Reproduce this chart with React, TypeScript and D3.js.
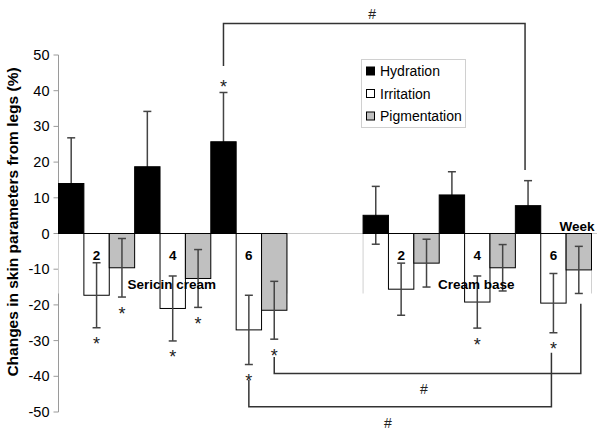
import React from "react";
import * as d3 from "d3";

const groups = ["Sericin cream", "Cream base"];
const weeks = ["2", "4", "6"];
const seriesNames = ["Hydration", "Irritation", "Pigmentation"];
const seriesColors = ["#000000", "#ffffff", "#c0c0c0"];

const hydrationSericin = [14.0, 18.7, 25.7];
const hydrationSericinSD = [12.8, 15.5, 13.8];
const irritationSericin = [-17.3, -21.0, -27.0];
const irritationSericinSD = [9.1, 9.1, 9.7];
const pigmentationSericin = [-9.6, -12.6, -21.5];
const pigmentationSericinSD = [8.2, 8.1, 8.1];

const hydrationBase = [5.1, 10.8, 7.8];
const hydrationBaseSD = [8.1, 6.5, 7.0];
const irritationBase = [-15.6, -19.2, -19.5];
const irritationBaseSD = [7.3, 7.3, 8.3];
const pigmentationBase = [-8.3, -9.6, -10.2];
const pigmentationBaseSD = [6.7, 6.5, 6.6];

// significance stars: [group, week, series]
const stars: [number, number, number][] = [
  [0, 0, 1], [0, 0, 2], [0, 1, 1], [0, 1, 2], [0, 2, 1], [0, 2, 2], [0, 2, 0],
  [1, 1, 1], [1, 2, 1],
];

const yTicks = [50, 40, 30, 20, 10, 0, -10, -20, -30, -40, -50];

const W = 600;
const H = 435;

export default function App() {
  const values = [
    [hydrationSericin, irritationSericin, pigmentationSericin],
    [hydrationBase, irritationBase, pigmentationBase],
  ];
  const sds = [
    [hydrationSericinSD, irritationSericinSD, pigmentationSericinSD],
    [hydrationBaseSD, irritationBaseSD, pigmentationBaseSD],
  ];
  const slots = d3.range(21);
  const x = d3.scaleBand<number>().domain(slots).range([58.5, 591.5]).padding(0);
  const y = d3.scaleLinear().domain([-50, 50]).range([412, 55]);
  const bw = x.bandwidth();
  const slot = (g: number, w: number, s: number) => g * 12 + w * 3 + s;
  const cx = (g: number, w: number, s: number) => (x(slot(g, w, s)) as number) + bw / 2;

  const bars: any[] = [];
  groups.forEach((_, g) =>
    weeks.forEach((_, w) =>
      seriesNames.forEach((_, s) => {
        const v = values[g][s][w];
        const sd = sds[g][s][w];
        bars.push({ g, w, s, v, sd });
      })
    )
  );

  const y0 = y(0);
  const font = "Liberation Sans, Arial, sans-serif";
  const line = "#333";

  // brackets (in data units)
  const topLevel = 58.8;
  const botA = -39.2;
  const botB = -48.5;

  const starPos = (g: number, w: number, s: number) => {
    const v = values[g][s][w];
    const sd = sds[g][s][w];
    if (v >= 0) return y(v + sd) + 1;
    return y(v - sd) + 22.5;
  };

  const xA1 = cx(0, 2, 2);
  const xA2 = cx(1, 2, 2) + 2;
  const xB1 = cx(0, 2, 1);
  const xB2 = cx(1, 2, 1) - 2;
  const xT1 = cx(0, 2, 0);
  const xT2 = cx(1, 2, 0) - 3;

  const errBar = (b: any, i: number) => {
    const c = cx(b.g, b.w, b.s);
    const t = y(b.v + b.sd);
    const bt = y(b.v - b.sd);
    return (
      <g key={i} stroke="#444" strokeWidth={1.5}>
        <line x1={c} x2={c} y1={t} y2={bt} />
        <line x1={c - 4} x2={c + 4} y1={t} y2={t} />
        <line x1={c - 4} x2={c + 4} y1={bt} y2={bt} />
      </g>
    );
  };

  return (
    <svg width={W} height={H} style={{ position: "absolute", left: 0, top: 0, background: "#fff" }}
      fontFamily={font}>
      <rect x={0} y={0} width={W} height={H} fill="#fff" />
      {/* y axis */}
      <line x1={58.5} x2={58.5} y1={y(50)} y2={y(-50)} stroke="#9a9a9a" strokeWidth={1} />
      {yTicks.map((t) => (
        <g key={t}>
          <line x1={53.5} x2={58.5} y1={y(t)} y2={y(t)} stroke="#9a9a9a" strokeWidth={1} />
          <text x={49.5} y={y(t) + 5} textAnchor="end" fontSize={14.5} fill="#000">{t}</text>
        </g>
      ))}
      <text transform={`translate(18,222) rotate(-90)`} textAnchor="middle" fontSize={15.5}
        fontWeight="bold" fill="#000">Changes in skin parameters from legs (%)</text>
      {/* zero line & group separators */}
      <line x1={58.5} x2={597} y1={y0} y2={y0} stroke="#c8c8c8" strokeWidth={1} />
      {[x(0) as number, (x(8) as number) + bw, x(12) as number, (x(20) as number) + bw].map((p, i) => (
        <line key={i} x1={p} x2={p} y1={y0} y2={y0 + 60} stroke="#d0d0d0" strokeWidth={1} />
      ))}
      {/* hydration error bars behind bars */}
      {bars.filter((b) => b.s === 0).map(errBar)}
      {/* bars */}
      {bars.map((b, i) => (
        <rect key={i} x={(x(slot(b.g, b.w, b.s)) as number)} width={bw}
          y={Math.min(y(b.v), y0)} height={Math.abs(y(b.v) - y0)}
          fill={seriesColors[b.s]} stroke="#000" strokeWidth={1} />
      ))}
      {/* other error bars */}
      {bars.filter((b) => b.s !== 0).map(errBar)}
      {/* week numbers */}
      {groups.map((_, g) =>
        weeks.map((wk, w) => (
          <text key={`${g}-${w}`} x={cx(g, w, 1)} y={y0 + 26} textAnchor="middle" fontSize={13.5}
            fontWeight="bold" fill="#000">{wk}</text>
        ))
      )}
      <text x={(x(4) as number) + bw / 2 - 1} y={y0 + 55} textAnchor="middle" fontSize={13.5}
        fontWeight="bold" fill="#000">{groups[0]}</text>
      <text x={(x(16) as number) + bw / 2 - 1} y={y0 + 55} textAnchor="middle" fontSize={13.5}
        fontWeight="bold" fill="#000">{groups[1]}</text>
      <text x={577} y={y0 - 3} textAnchor="middle" fontSize={13.5} fontWeight="bold" fill="#000">Week</text>
      {/* stars */}
      {stars.map(([g, w, s], i) => (
        <text key={i} x={cx(g, w, s)} y={starPos(g, w, s)} textAnchor="middle" fontSize={18}
          fill="#222">*</text>
      ))}
      {/* brackets */}
      <g fill="none" stroke={line} strokeWidth={1.5}>
        <polyline points={`${xT1},${y(46.9)} ${xT1},${y(topLevel)} ${xT2},${y(topLevel)} ${xT2},${y(17.8)}`} />
        <polyline points={`${xA1},${y(-34.6)} ${xA1},${y(botA)} ${xA2},${y(botA)} ${xA2},${y(-19.7)}`} />
        <polyline points={`${xB1},${y(-41.0)} ${xB1},${y(botB)} ${xB2},${y(botB)} ${xB2},${y(-33.4)}`} />
      </g>
      <text x={(xT1 + xT2) / 2 - 2} y={y(topLevel) - 4.5} textAnchor="middle" fontSize={14} fill="#222">#</text>
      <text x={424} y={y(botA) + 21} textAnchor="middle" fontSize={14} fill="#222">#</text>
      <text x={388} y={y(botB) + 21} textAnchor="middle" fontSize={14} fill="#222">#</text>
      {/* legend */}
      <rect x={361.5} y={59.5} width={104} height={68} fill="#fff" stroke="#d0d0d0" strokeWidth={1} />
      {seriesNames.map((n, i) => (
        <g key={n}>
          <rect x={366.5} y={67 + i * 22.5} width={8} height={8} fill={seriesColors[i]} stroke="#000"
            strokeWidth={1} />
          <text x={380} y={76 + i * 22.5} fontSize={14} fill="#000">{n}</text>
        </g>
      ))}
    </svg>
  );
}
